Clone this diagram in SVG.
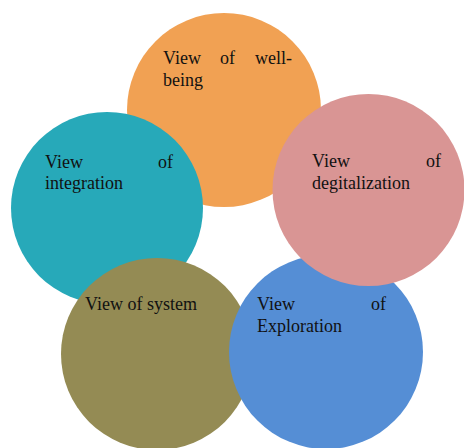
<svg xmlns="http://www.w3.org/2000/svg" width="464" height="448" viewBox="0 0 464 448">
<style>
text{font-family:'Liberation Serif','Times New Roman','DejaVu Serif',serif;font-size:18px;fill:#111}
.e{text-anchor:end}
</style>
<rect width="464" height="448" fill="#fff"/>
<g id="connectors"></g>
<g id="wellbeing">
<circle cx="224" cy="110" r="97" fill="#F1A153"/>
<text x="163" y="64">View</text><text x="220" y="64">of</text><text class="e" x="292" y="64">well-</text>
<text x="163" y="86">being</text>
</g>
<g id="integration">
<circle cx="107" cy="208" r="96" fill="#27A9B9"/>
<text x="45" y="168">View</text><text class="e" x="173" y="168">of</text>
<text x="45" y="189">integration</text>
</g>
<g id="system">
<circle cx="157" cy="354" r="96" fill="#948B54"/>
<text x="85" y="310">View of system</text>
</g>
<g id="exploration">
<circle cx="326" cy="352" r="97" fill="#558ED5"/>
<text x="257" y="310">View</text><text class="e" x="386" y="310">of</text>
<text x="257" y="332">Exploration</text>
</g>
<g id="digitalization">
<circle cx="368.5" cy="190" r="96" fill="#D99594"/>
<text x="312" y="167">View</text><text class="e" x="441" y="167">of</text>
<text x="312" y="189">degitalization</text>
</g>
</svg>
